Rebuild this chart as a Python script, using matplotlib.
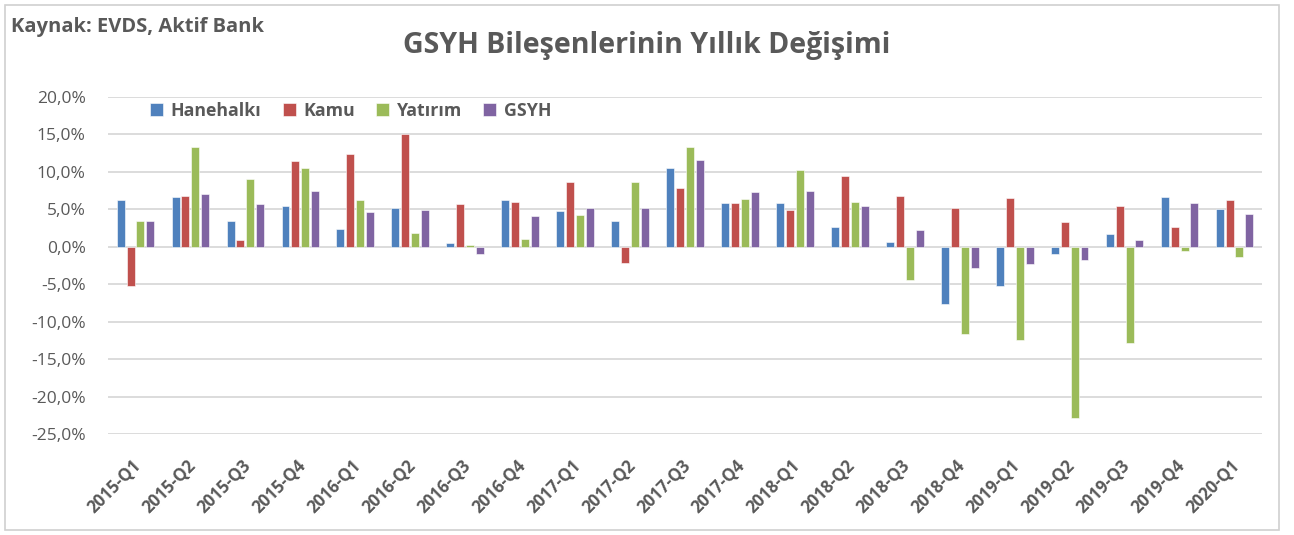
import numpy as np
import matplotlib
matplotlib.use("Agg")
import matplotlib.pyplot as plt
from matplotlib.patches import Rectangle
from matplotlib.transforms import ScaledTranslation

plt.rcParams['font.family'] = ['Open Sans', 'DejaVu Sans']

quarters = ['2015-Q1', '2015-Q2', '2015-Q3', '2015-Q4',
            '2016-Q1', '2016-Q2', '2016-Q3', '2016-Q4',
            '2017-Q1', '2017-Q2', '2017-Q3', '2017-Q4',
            '2018-Q1', '2018-Q2', '2018-Q3', '2018-Q4',
            '2019-Q1', '2019-Q2', '2019-Q3', '2019-Q4',
            '2020-Q1']

hanehalki = [6.2, 6.6, 3.5, 5.4, 2.4, 5.2, 0.45, 6.2, 4.8, 3.5, 10.5,
             5.85, 5.85, 2.7, 0.6, -7.7, -5.2, -1.0, 1.7, 6.6, 5.1]
kamu = [-5.2, 6.8, 0.9, 11.4, 12.4, 15.1, 5.7, 6.0, 8.7, -2.1, 7.8,
        5.85, 4.9, 9.5, 6.8, 5.2, 6.5, 3.3, 5.5, 2.7, 6.2]
yatirim = [3.5, 13.3, 9.1, 10.5, 6.2, 1.9, 0.3, 1.1, 4.2, 8.6, 13.3,
           6.4, 10.3, 6.0, -4.5, -11.7, -12.5, -22.9, -12.8, -0.5, -1.4]
gsyh = [3.5, 7.1, 5.7, 7.5, 4.7, 4.9, -0.9, 4.15, 5.2, 5.2, 11.6,
        7.3, 7.4, 5.5, 2.2, -2.8, -2.3, -1.7, 0.9, 5.85, 4.4]

series_names = ['Hanehalkı', 'Kamu', 'Yatırım', 'GSYH']
series_colors = ['#4F81BD', '#C0504D', '#9BBB59', '#8064A2']
y_ticks = [20, 15, 10, 5, 0, -5, -10, -15, -20, -25]

text_col = '#595959'

fig = plt.figure(figsize=(12.94, 5.35), dpi=100)
fig.patches.append(Rectangle((5 / 1294, 5 / 535), 1274 / 1294, 525 / 535,
                             transform=fig.transFigure, fill=False,
                             edgecolor='#d0d0d0', linewidth=1.2))

ax = fig.add_axes([108 / 1294, 1 - 434 / 535, 1154 / 1294, 337 / 535])

x = np.arange(len(quarters))
offsets = [-0.27, -0.09, 0.09, 0.27]
for vals, name, col, off in zip([hanehalki, kamu, yatirim, gsyh],
                                series_names, series_colors, offsets):
    ax.bar(x + off, vals, width=0.145, color=col, label=name,
           edgecolor='white', linewidth=0.4, zorder=3)

ax.set_xlim(-0.5, len(quarters) - 0.5)
ax.set_ylim(-25, 20)
ax.set_yticks(y_ticks)
ax.set_yticklabels([f"{v:.1f}%".replace('.', ',') for v in y_ticks],
                   fontsize=12.5, color=text_col)
ax.grid(axis='y', color='#d9d9d9', linewidth=1.3, zorder=0)
ax.tick_params(axis='both', length=0)
ax.tick_params(axis='y', pad=16)
for s in ax.spines.values():
    s.set_visible(False)

ax.set_xticks(x)
ax.set_xticklabels(quarters, rotation=45, ha='right', fontsize=12.2,
                   fontweight='bold', color=text_col)
ax.tick_params(axis='x', pad=16)
shift = ScaledTranslation(9 / 100, 0, fig.dpi_scale_trans)
for lbl in ax.get_xticklabels():
    lbl.set_transform(lbl.get_transform() + shift)

leg = ax.legend(loc='upper left', bbox_to_anchor=(134 / 1294, 1 - 86 / 535),
                bbox_transform=fig.transFigure, ncol=4, frameon=False,
                handlelength=0.75, handleheight=0.75, handletextpad=0.4,
                columnspacing=1.2, fontsize=12.8)
for t in leg.get_texts():
    t.set_color(text_col)
    t.set_fontweight('bold')

fig.text(647 / 1294, 1 - 46 / 535, 'GSYH Bileşenlerinin Yıllık Değişimi',
         ha='center', va='center', fontsize=20.5, fontweight='bold',
         color=text_col)
fig.text(11 / 1294, 1 - 27 / 535, 'Kaynak: EVDS, Aktif Bank',
         ha='left', va='center', fontsize=14.5, fontweight='bold',
         color=text_col)

fig.savefig('out.png', dpi=100)
